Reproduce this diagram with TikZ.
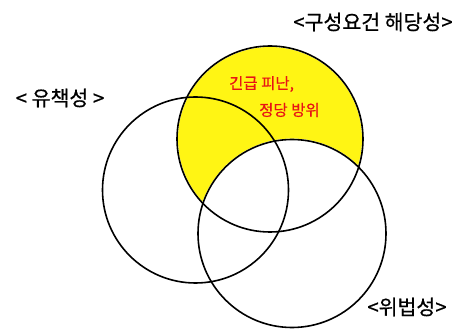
\documentclass[tikz,border=0pt]{standalone}
\usepackage{fontspec}
\newfontfamily\kr[FakeBold=0.6]{Noto Sans CJK KR}
\definecolor{hl}{RGB}{255,245,20}
\definecolor{redtxt}{RGB}{232,20,20}
\begin{document}
\begin{tikzpicture}[x=1pt,y=-1pt,
  ring/.style={circle,draw=black,line width=1.6pt,minimum size=186pt,inner sep=0pt},
  lab/.style={font=\kr\fontsize{20.5}{22}\selectfont,inner sep=0pt},
  redlab/.style={font=\kr\fontsize{15.5}{17}\selectfont,text=redtxt,inner sep=0pt}]
\useasboundingbox (0,0) rectangle (458,331);
% yellow highlight: top circle minus bottom-right circle
\begin{scope}
  \clip (270,139) circle (92);
  \fill[hl,even odd rule] (0,0) rectangle (458,331) (292,233.5) circle (95);
\end{scope}
\node[ring] (top) at (270,139) {};
\node[ring] (left) at (195.5,190) {};
\node[ring,minimum size=188pt] (right) at (292,233.5) {};
\node[lab] (tlab) at (373,22) {<구성요건 해당성>};
\node[lab] (llab) at (60,98) {< 유책성 >};
\node[lab] (rlab) at (407,307) {<위법성>};
\node[redlab,anchor=west] (r1) at (229,84) {긴급 피난,};
\node[redlab,anchor=west] (r2) at (259,110) {정당 방위};
\end{tikzpicture}
\end{document}
